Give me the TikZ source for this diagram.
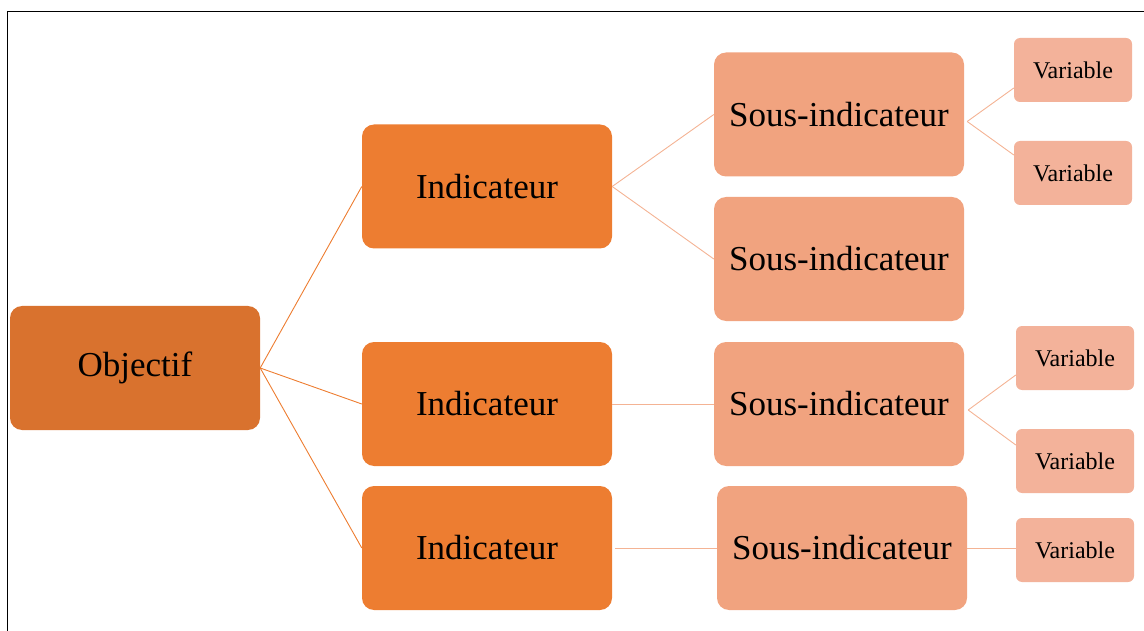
\documentclass[tikz,border=0pt]{standalone}
\usepackage{fontspec}
\setmainfont{Liberation Serif}
\definecolor{objorange}{HTML}{D9722E}
\definecolor{indorange}{HTML}{ED7D31}
\definecolor{sousorange}{HTML}{F1A37F}
\definecolor{varorange}{HTML}{F3B29A}
\definecolor{linelight}{HTML}{F4B394}
\begin{document}
\begin{tikzpicture}[x=1pt,y=-1pt,
    objbox/.style={fill=objorange, rounded corners=12pt, inner sep=0pt,
      minimum width=250pt, minimum height=124pt, font=\fontsize{35}{40}\selectfont},
    indbox/.style={objbox, fill=indorange},
    sousbox/.style={objbox, fill=sousorange},
    varbox/.style={fill=varorange, rounded corners=6pt, inner sep=0pt,
      minimum width=118pt, minimum height=64pt, font=\fontsize{24}{28}\selectfont},
    objline/.style={draw=indorange, line width=0.9pt},
    subline/.style={draw=linelight, line width=0.9pt}]
\useasboundingbox (0,0) rectangle (1144,631);
% frame
\draw[line width=1.8pt] (1144,11.5) -| (7.5,631);
% boxes
\node[objbox] (obj) at (135,368) {Objectif};
\node[indbox] (ind1) at (487,186.5) {Indicateur};
\node[indbox] (ind2) at (487,404) {Indicateur};
\node[indbox] (ind3) at (487,548) {Indicateur};
\node[sousbox] (sous1) at (839,114.5) {Sous-indicateur};
\node[sousbox] (sous2) at (839,259) {Sous-indicateur};
\node[sousbox] (sous3) at (839,404) {Sous-indicateur};
\node[sousbox] (sous4) at (842,548) {Sous-indicateur};
\node[varbox] (var1) at (1073,70) {Variable};
\node[varbox] (var2) at (1073,173) {Variable};
\node[varbox] (var3) at (1075,358) {Variable};
\node[varbox] (var4) at (1075,461) {Variable};
\node[varbox] (var5) at (1075,550) {Variable};
% branch points
\coordinate (fork1) at ([xshift=3pt,yshift=-7pt]sous1.east);
\coordinate (fork3) at ([xshift=4pt,yshift=-6pt]sous3.east);
% connectors
\draw[objline] (obj.east) -- (ind1.west);
\draw[objline] (obj.east) -- (ind2.west);
\draw[objline] (obj.east) -- (ind3.west);
\draw[subline] (ind1.east) -- (sous1.west);
\draw[subline] (ind1.east) -- (sous2.west);
\draw[subline] (ind2.east) -- (sous3.west);
\draw[subline] ([xshift=3pt]ind3.east) -- (sous4.west);
\draw[subline] (fork1) -- ([yshift=-18pt]var1.west);
\draw[subline] (fork1) -- ([yshift=18pt]var2.west);
\draw[subline] (fork3) -- ([yshift=-17pt]var3.west);
\draw[subline] (fork3) -- ([yshift=16pt]var4.west);
\draw[subline] (sous4.east) -- (sous4.east -| var5.west);
\end{tikzpicture}
\end{document}
